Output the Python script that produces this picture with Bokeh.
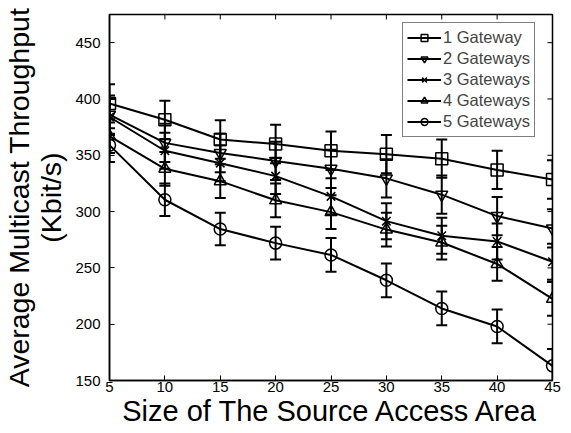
import math
from bokeh.plotting import figure
from bokeh.models import ColumnDataSource, Whisker, FixedTicker, Range1d, TeeHead
from bokeh.embed import file_html
from bokeh.resources import INLINE

x_vals = [5, 10, 15, 20, 25, 30, 35, 40, 45]
y_ticks = [150, 200, 250, 300, 350, 400, 450]
series_names = ["1 Gateway", "2 Gateways", "3 Gateways", "4 Gateways", "5 Gateways"]
gw1 = [396, 381.5, 364, 360, 354, 351, 347, 337, 328.5]
gw2 = [386, 361, 352, 345, 338, 329.5, 315, 296, 285]
gw3 = [384, 354, 343, 331.5, 313.5, 291.5, 278.5, 273.5, 255.5]
gw4 = [367, 338, 327, 310, 299.5, 284, 272.5, 253.5, 222.5]
gw5 = [359, 310.5, 284.5, 272, 261.5, 239, 214, 198, 163]
err1 = [17, 17, 17, 17, 17, 17, 17, 17, 17]
err2 = [17, 17, 17, 17, 17, 17, 17, 17, 17]
err3 = [16, 16, 16, 16, 16, 16, 16, 16, 16]
err4 = [15, 15, 15, 15, 15, 15, 15, 15, 15]
err5 = [15, 14.5, 14.5, 14.5, 15, 15, 15, 15, 15]
markers = ["square", "inverted_triangle", "x", "triangle", "circle"]

FONT = "Liberation Sans"
X0, X1 = 5, 45
Y0, Y1 = 150, 475

p = figure(frame_width=443, frame_height=366, output_backend="svg", toolbar_location=None,
           x_range=Range1d(X0, X1), y_range=Range1d(Y0, Y1),
           min_border_left=102, min_border_right=10, min_border_top=14, min_border_bottom=44)
p.xgrid.visible = False
p.ygrid.visible = False
p.outline_line_color = "black"
p.outline_line_width = 1.5
p.background_fill_color = "white"
p.border_fill_color = "white"

for ax in (p.xaxis[0], p.yaxis[0]):
    ax.major_tick_in = 5
    ax.major_tick_out = 0
    ax.minor_tick_line_color = None
    ax.axis_line_color = "black"
    ax.axis_line_width = 1.5
    ax.major_tick_line_width = 1
    ax.major_label_text_font = FONT
    ax.major_label_text_font_size = "15px"
    ax.major_label_text_color = "black"
    ax.major_label_text_line_height = 1.0
    ax.axis_label_text_font = FONT
    ax.axis_label_text_font_style = "normal"
    ax.axis_label_text_color = "black"
    ax.axis_label_text_line_height = 1.0

p.xaxis[0].ticker = FixedTicker(ticks=x_vals)
p.yaxis[0].ticker = FixedTicker(ticks=y_ticks)
p.xaxis[0].axis_label = "Size of The Source Access Area"
p.xaxis[0].axis_label_text_font_size = "29px"
p.xaxis[0].axis_label_standoff = 0
p.xaxis[0].major_label_standoff = 1
p.yaxis[0].axis_label = "Average Multicast Throughput\n(Kbit/s)"
p.yaxis[0].axis_label_text_font_size = "28.5px"
p.yaxis[0].axis_label_standoff = 5
p.yaxis[0].major_label_standoff = 9

# inward ticks on the top and right edges (clipped to the frame)
p.scatter(x=x_vals, y=[Y1] * len(x_vals), marker="dash", size=10, angle=math.pi / 2,
          line_color="black", line_width=1)
p.scatter(x=[X1] * len(y_ticks), y=y_ticks, marker="dash", size=10,
          line_color="black", line_width=1)

all_vals = [gw1, gw2, gw3, gw4, gw5]
all_errs = [err1, err2, err3, err4, err5]
for name, vals, errs, mk in zip(series_names, all_vals, all_errs, markers):
    src = ColumnDataSource(dict(x=x_vals, y=vals,
                                upper=[v + e for v, e in zip(vals, errs)],
                                lower=[v - e for v, e in zip(vals, errs)]))
    w = Whisker(source=src, base="x", upper="upper", lower="lower",
                line_color="black", line_width=2,
                upper_head=TeeHead(size=11, line_color="black", line_width=2),
                lower_head=TeeHead(size=11, line_color="black", line_width=2))
    p.add_layout(w)
    p.line("x", "y", source=src, line_color="black", line_width=2, legend_label=name)
    p.scatter("x", "y", source=src, marker=mk, size=12, line_color="black",
              line_width=1.5, fill_color=None, legend_label=name)

lg = p.legend[0]
lg.location = (293, 243)
lg.margin = 0
lg.padding = 4
lg.spacing = 0
lg.border_line_color = "black"
lg.border_line_width = 1.2
lg.label_text_font = FONT
lg.label_text_font_size = "16.5px"
lg.glyph_width = 34
lg.glyph_height = 17
lg.label_standoff = 2
lg.label_height = 21

open("out.html", "w").write(file_html(p, INLINE))
